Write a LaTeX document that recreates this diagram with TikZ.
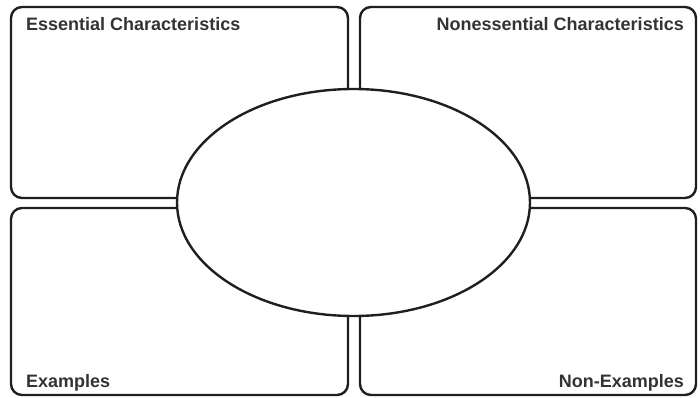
\documentclass[tikz,border=0pt]{standalone}
\usepackage{fontspec}
\setmainfont{Liberation Sans}
\usetikzlibrary{shapes.geometric}
\begin{document}
\begin{tikzpicture}[x=1pt,y=-1pt,line width=2.4pt,line join=round,
	box/.style={draw=black!88,rounded corners=11pt,inner sep=0pt},
	lbl/.style={font=\bfseries\fontsize{18}{21}\selectfont,text=black!80,inner sep=0pt}]
	\useasboundingbox (0,0) rectangle (700,398);
	% four corner boxes
	\node[box,minimum width=337pt,minimum height=191pt] (ess) at (179.5,102.5) {};
	\node[box,minimum width=336pt,minimum height=191pt] (non) at (528,102.5) {};
	\node[box,minimum width=337pt,minimum height=187pt] (exa) at (179.5,301.5) {};
	\node[box,minimum width=336pt,minimum height=187pt] (nex) at (528,301.5) {};
	% centre
	\node[ellipse,draw=black!88,fill=white,inner sep=0pt,minimum width=353pt,minimum height=227pt] (term) at (353.5,202.5) {};
	\node[lbl,anchor=base west] (essl) at (25,31) {Essential Characteristics};
	\node[lbl,anchor=base east] (nonl) at (685,31) {Nonessential Characteristics};
	\node[lbl,anchor=base west] (exal) at (25,387) {Examples};
	\node[lbl,anchor=base east] (nexl) at (685,387) {Non-Examples};
\end{tikzpicture}
\end{document}
